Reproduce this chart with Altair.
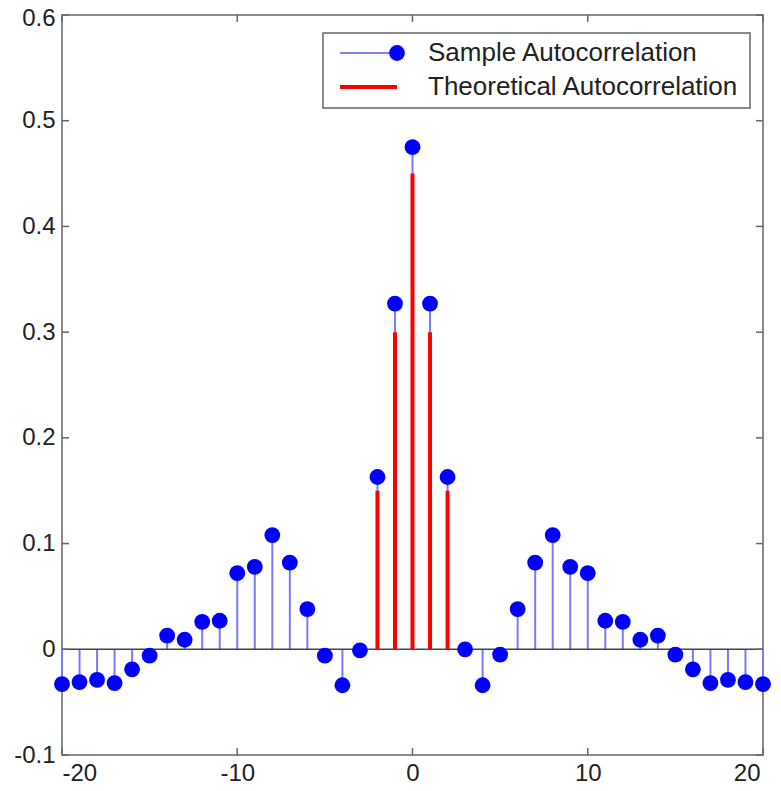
import altair as alt
import pandas as pd

# ---- data ----
lags = list(range(-20, 21))
sample_acf = [-0.033, -0.031, -0.029, -0.032, -0.019, -0.006, 0.013, 0.009, 0.026, 0.027,
              0.072, 0.078, 0.108, 0.082, 0.038, -0.006, -0.034, -0.001, 0.163, 0.327,
              0.475,
              0.327, 0.163, 0.0, -0.034, -0.005, 0.038, 0.082, 0.108, 0.078, 0.072,
              0.027, 0.026, 0.009, 0.013, -0.005, -0.019, -0.032, -0.029, -0.031, -0.033]
theo_lags = [-2, -1, 0, 1, 2]
theo_acf = [0.15, 0.30, 0.45, 0.30, 0.15]
x_ticks = [-20, -10, 0, 10, 20]
y_ticks = [-0.1, 0.0, 0.1, 0.2, 0.3, 0.4, 0.5, 0.6]
legend_labels = ["Sample Autocorrelation", "Theoretical Autocorrelation"]

W, H = 701, 740
FONT = "Liberation Sans"
FRAME = "#666666"

xs = alt.Scale(domain=[-20, 20], nice=False, zero=False)
ys = alt.Scale(domain=[-0.1, 0.6], nice=False, zero=False)

df = pd.DataFrame({"lag": lags, "acf": sample_acf})
dft = pd.DataFrame({"lag": theo_lags, "acf": theo_acf})
dfx = pd.DataFrame({"lag": x_ticks})
dfy = pd.DataFrame({"acf": y_ticks})

x_axis = alt.Axis(values=x_ticks, ticks=False, domain=False, grid=False, title=None,
                  labelFont=FONT, labelFontSize=24, labelColor="#222222", labelPadding=6,
                  labelOffset={"condition": {"test": "datum.value >= 19", "value": -3}, "value": 0},
                  labelExpr="'' + datum.value")
y_axis = alt.Axis(values=y_ticks, ticks=False, domain=False, grid=False, title=None,
                  labelFont=FONT, labelFontSize=24, labelColor="#222222", labelPadding=7,
                  labelOffset={"condition": {"test": "datum.value >= 0.59", "value": 3}, "value": 0},
                  labelExpr="'' + datum.value")

X = lambda: alt.X("lag:Q", scale=xs, axis=x_axis)
Y = lambda: alt.Y("acf:Q", scale=ys, axis=y_axis)

stems = alt.Chart(df).mark_rule(color="#7a7aff", strokeWidth=2).encode(
    x=X(), y=Y(), y2=alt.datum(0),
)

baseline = alt.Chart(dfy.head(1)).mark_rule(color="#444444", strokeWidth=1.5).encode(
    y=alt.datum(0, scale=ys, axis=y_axis),
)

theo = alt.Chart(dft).mark_rule(color="#ff0000", strokeWidth=4).encode(
    x=X(), y=Y(), y2=alt.datum(0),
)

points = alt.Chart(df).mark_circle(color="#0000ff", opacity=1, size=250).encode(
    x=X(), y=Y(),
)

# inward ticks (MATLAB style box, all four sides)
xt_bottom = alt.Chart(dfx).mark_rule(color=FRAME, strokeWidth=1.5).encode(
    x=X(), y=alt.value(H), y2=alt.value(H - 7))
xt_top = alt.Chart(dfx).mark_rule(color=FRAME, strokeWidth=1.5).encode(
    x=X(), y=alt.value(0), y2=alt.value(7))
yt_left = alt.Chart(dfy).mark_rule(color=FRAME, strokeWidth=1.5).encode(
    y=Y(), x=alt.value(0), x2=alt.value(7))
yt_right = alt.Chart(dfy).mark_rule(color=FRAME, strokeWidth=1.5).encode(
    y=Y(), x=alt.value(W), x2=alt.value(W - 7))

# legend
one = pd.DataFrame({"k": [0]})
leg_box = alt.Chart(one).mark_rect(fill="white", stroke=FRAME, strokeWidth=1.5).encode(
    x=alt.value(261), x2=alt.value(688), y=alt.value(18), y2=alt.value(93))
leg_l1 = alt.Chart(one).mark_rule(color="#5555ff", strokeWidth=1.5).encode(
    x=alt.value(278), x2=alt.value(335), y=alt.value(38))
leg_p1 = alt.Chart(one).mark_circle(color="#0000ff", opacity=1, size=250).encode(
    x=alt.value(335), y=alt.value(38))
leg_l2 = alt.Chart(one).mark_rule(color="#ff0000", strokeWidth=4).encode(
    x=alt.value(278), x2=alt.value(335), y=alt.value(72))
leg_t = alt.Chart(pd.DataFrame({"label": legend_labels, "ypos": [38, 72]})).mark_text(
    align="left", baseline="middle", font=FONT, fontSize=26, color="#222222").encode(
    x=alt.value(366), y=alt.Y("ypos:Q", scale=None), text="label:N")

chart = alt.layer(
    stems, baseline, theo, points,
    xt_bottom, xt_top, yt_left, yt_right,
    leg_box, leg_l1, leg_p1, leg_l2, leg_t,
).properties(
    width=W, height=H,
    background="white",
    autosize=alt.AutoSizeParams(type="none"),
    padding={"left": 54, "top": 7, "right": 10, "bottom": 28},
).configure_view(stroke=FRAME, strokeWidth=1.5)

chart.save("out.html", embed_options={"renderer": "svg", "actions": False})
